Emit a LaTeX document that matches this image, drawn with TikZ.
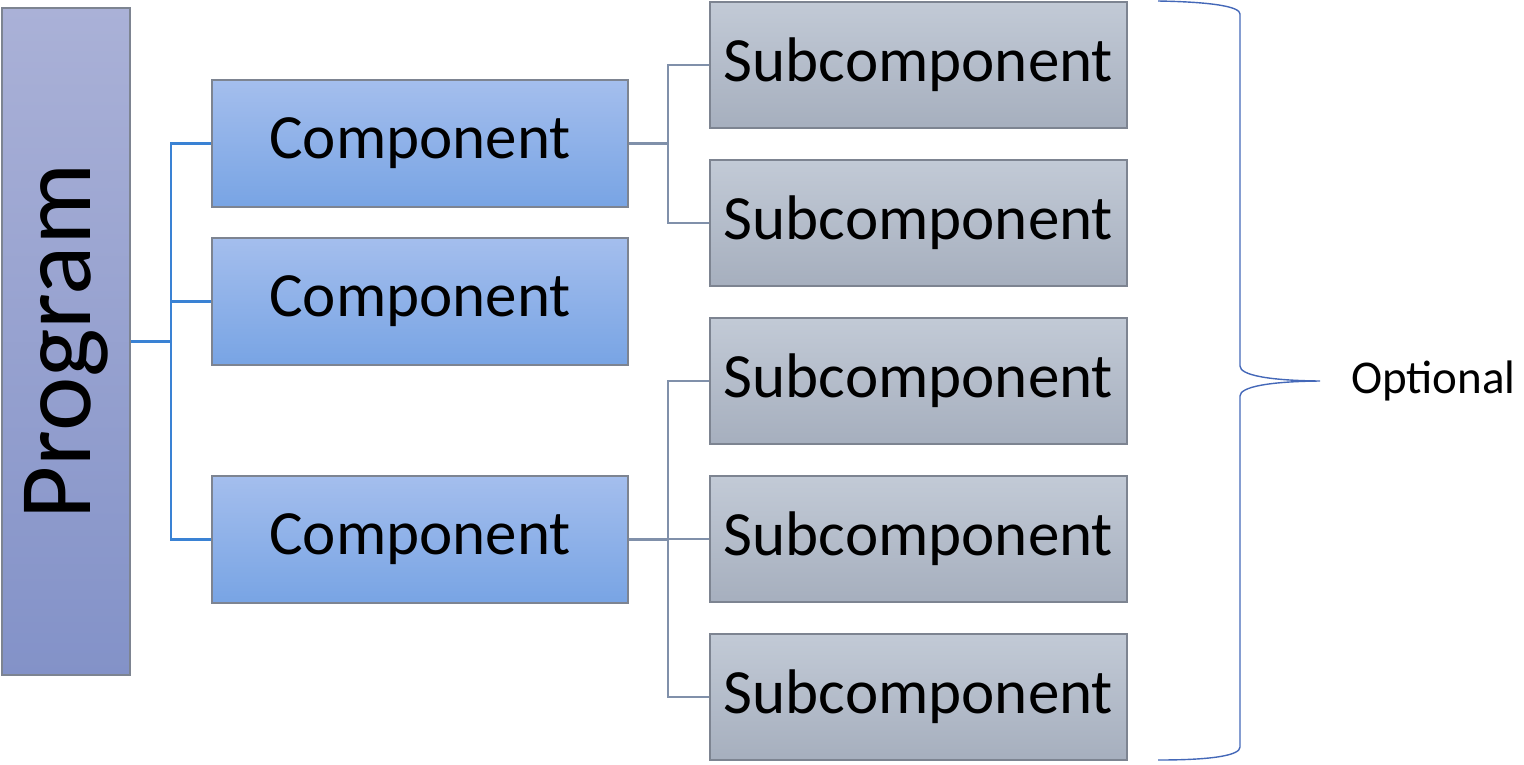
\documentclass[tikz,border=0pt]{standalone}
\usepackage{fontspec}
\setmainfont{Carlito}
\definecolor{progtop}{RGB}{170,177,215}
\definecolor{progbot}{RGB}{131,146,200}
\definecolor{comptop}{RGB}{164,190,237}
\definecolor{compbot}{RGB}{120,164,228}
\definecolor{subtop}{RGB}{194,202,214}
\definecolor{subbot}{RGB}{166,175,190}
\definecolor{boxline}{RGB}{125,132,145}
\definecolor{blueline}{RGB}{58,130,212}
\definecolor{grayline}{RGB}{128,144,170}
\definecolor{bracecol}{RGB}{68,104,184}
\newcommand{\lowered}[1]{\raisebox{-3pt}{#1}}
\tikzset{
  basebox/.style={rectangle, draw=boxline, line width=1.2pt, inner sep=0pt, align=center},
  progbox/.style={basebox, top color=progtop, bottom color=progbot, minimum width=128pt, minimum height=667pt},
  compbox/.style={basebox, top color=comptop, bottom color=compbot, minimum width=416pt, minimum height=127pt, font=\fontsize{63}{70}\selectfont},
  subbox/.style={basebox, top color=subtop, bottom color=subbot, minimum width=417pt, minimum height=126pt, font=\fontsize{63}{70}\selectfont},
  blueconn/.style={draw=blueline, line width=2.2pt},
  grayconn/.style={draw=grayline, line width=2.2pt},
}
\begin{document}
\begin{tikzpicture}[x=1pt,y=-1pt]
\useasboundingbox (0,0) rectangle (1524,764);
\node[progbox] (prog) at (66,341.5) {};
\node[rotate=90, font=\fontsize{103}{110}\selectfont, inner sep=0pt] (progtext) at (prog.center) {Program};
\node[compbox] (c1) at (420,143.5) {\lowered{Component}};
\node[compbox] (c2) at (420,301.5) {\lowered{Component}};
\node[compbox] (c3) at (420,539.5) {\lowered{Component}};
\node[subbox] (s1) at (918.5,65) {\lowered{Subcomponent}};
\node[subbox] (s2) at (918.5,223) {\lowered{Subcomponent}};
\node[subbox] (s3) at (918.5,381) {\lowered{Subcomponent}};
\node[subbox] (s4) at (918.5,539) {\lowered{Subcomponent}};
\node[subbox] (s5) at (918.5,697) {\lowered{Subcomponent}};
% connectors from program
\coordinate (pj) at (171,341.5);
\draw[blueconn] (prog.east) -- (pj);
\draw[blueconn] (pj) |- (c1.west);
\draw[blueconn] (pj) |- (c2.west);
\draw[blueconn] (pj) |- (c3.west);
% connectors from component 1
\coordinate (j1) at (668,143.5);
\draw[grayconn] (c1.east) -- (j1);
\draw[grayconn] (j1) |- (s1.west);
\draw[grayconn] (j1) |- (s2.west);
% connectors from component 3
\coordinate (j3) at (668,539.5);
\draw[grayconn] (c3.east) -- (j3);
\draw[grayconn] (j3) |- (s3.west);
\draw[grayconn] (j3) |- (s4.west);
\draw[grayconn] (j3) |- (s5.west);
% brace
\coordinate (bt) at (1158,1);
\coordinate (bb) at (1158,760);
\coordinate (tip) at (1320,381);
\draw[draw=bracecol, line width=1.4pt]
  (bt) .. controls (1215,2) and (1240,7) .. (1240,14)
  -- (1240,366) .. controls (1240,375) and (1268,380.5) .. (tip)
  .. controls (1268,381.5) and (1240,387) .. (1240,396)
  -- (1240,747) .. controls (1240,755) and (1215,760) .. (bb);
\node[anchor=west, font=\fontsize{47}{52}\selectfont, inner sep=0pt] (opt) at (1351,381) {Optional};
\end{tikzpicture}
\end{document}
